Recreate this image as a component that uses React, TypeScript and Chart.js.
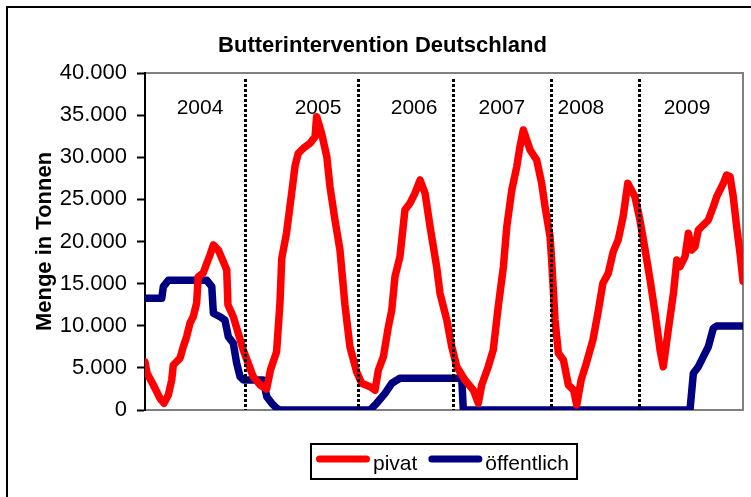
import React, { useEffect, useRef } from 'react';
import { Chart, registerables } from 'chart.js';

Chart.register(...registerables);

const TITLE = 'Butterintervention Deutschland';
const Y_TITLE = 'Menge in Tonnen';
const FONT = '"Liberation Sans", Arial, Helvetica, sans-serif';

const yearLabels = ['2004', '2005', '2006', '2007', '2008', '2009'];
const yearLabelWeeks = [27.6, 86.8, 135, 179, 218.7, 271.9];
const yearBoundaryWeeks = [50.2, 106.9, 154.5, 203.9, 247.9];

const yTicks = [0, 5000, 10000, 15000, 20000, 25000, 30000, 35000, 40000];

const pivatWeeks = [
  0, 1, 4.2, 7.5, 9.5, 11.7, 13.4, 14.2, 17.6, 19.2, 20.9, 22.6, 24.2, 25.9, 26.7, 29.2, 31, 32.6, 34.3, 36.8,
  39.3, 41, 41.6, 44.3, 46.8, 49.3, 51.8, 54.3, 57.7, 61, 63, 66, 67.7, 68.6, 71, 73.6, 75.3, 76.9, 79.4, 82.8,
  85.3, 86.1, 88.6, 91.2, 92.8, 95.3, 97.8, 100.3, 102.8, 106.2, 108.7, 112.9, 115.4, 117.1, 119.6, 122.1, 123.8,
  125.4, 127.9, 130.4, 132.9, 135.4, 138, 140.5, 143, 146.3, 148, 151.4, 153.9, 156.4, 160.5, 164.7, 167.2, 168.9,
  172.2, 174.7, 177.2, 179.8, 181.5, 184, 186.5, 188.1, 189.8, 193.2, 196.5, 199, 200.7, 203.2, 204, 205.7, 207.4,
  209.9, 212.4, 215, 216.6, 218.8, 221.4, 224.7, 227.2, 229.7, 232.4, 234.9, 237.4, 239.9, 242.2, 245.8, 248.3,
  250.9, 253.4, 255.9, 258.4, 260, 262.5, 265.1, 266.8, 268.4, 270.9, 272.6, 274.3, 275.9, 277.6, 279.3, 282.6,
  285.1, 286.8, 290.1, 291.8, 293.5, 295.1, 296.8, 298.5, 300,
];
const pivatValues = [
  5700, 4400, 2970, 1390, 800, 1780, 3560, 5340, 6170, 7510, 8700, 10330, 11070, 12700, 15820, 16260, 17410, 18400,
  19590, 18990, 17600, 16620, 12500, 11070, 9100, 7120, 5540, 3950, 2970, 2500, 4800, 6900, 12660, 18000, 21000,
  25800, 29000, 30470, 31060, 31650, 32440, 34820, 32840, 30070, 26500, 22550, 19000, 12500, 7510, 4500, 3170, 2770,
  2370, 4750, 6330, 9890, 11870, 15820, 18200, 23740, 24530, 25720, 27300, 25720, 21760, 17010, 13850, 10680, 7510,
  5140, 3560, 2370, 800, 2970, 5140, 7120, 12260, 17010, 21760, 26100, 28880, 31250, 33240, 30860, 29680, 26900,
  24130, 20570, 17800, 10680, 6730, 5935, 2970, 2370, 600, 3560, 5540, 8310, 11480, 15040, 16220, 18800, 20200,
  23000, 26900, 25320, 22550, 18990, 15430, 11480, 7120, 5140, 9500, 13850, 17800, 17010, 18200, 20970, 18990,
  19390, 21370, 21760, 22550, 24130, 25320, 26900, 27890, 27690, 25320, 21760, 18600, 15300,
];

const oeffWeeks = [
  0, 8.4, 9.2, 11.7, 31, 33.5, 34.3, 37.6, 40.1, 41.8, 44.3, 46, 47.7, 49.3, 59.3, 61.1, 63.6, 66.1, 67.7, 112.9,
  116.2, 120.4, 123.8, 127.9, 158.9, 159.7, 273.4, 275.1, 277.6, 280.1, 282.6, 285.1, 286.8, 300,
];
const oeffValues = [
  13250, 13250, 14640, 15390, 15390, 14640, 11480, 11070, 10680, 8700, 7910, 5540, 3950, 3560, 3560, 1580, 800, 200,
  0, 0, 800, 1980, 3170, 3760, 3760, 0, 0, 4360, 5140, 6330, 7510, 9700, 9970, 9970,
];

const seriesNames = ['pivat', 'öffentlich'];
const seriesColors = ['#ff0000', '#000080'];

function fmt(v: number): string {
  return String(v).replace(/\B(?=(\d{3})+(?!\d))/g, '.');
}

const decorPlugin = {
  id: 'decor',
  beforeDraw(chart: any) {
    const { ctx, chartArea: a } = chart;
    ctx.save();
    ctx.fillStyle = '#ffffff';
    ctx.fillRect(0, 0, chart.width, chart.height);
    ctx.strokeStyle = '#000000';
    ctx.lineWidth = 2;
    ctx.strokeRect(7, 7, chart.width + 40, chart.height + 40);
    ctx.strokeStyle = '#808080';
    ctx.strokeRect(a.left, a.top, a.right - a.left, a.bottom - a.top);
    ctx.restore();
  },
  afterDatasetsDraw(chart: any) {
    const { ctx, chartArea: a } = chart;
    const xs = chart.scales.x;
    ctx.save();
    ctx.strokeStyle = '#000000';
    ctx.lineWidth = 3;
    ctx.setLineDash([3, 2]);
    yearBoundaryWeeks.forEach((w) => {
      const x = Math.round(xs.getPixelForValue(w)) + 0.5;
      ctx.beginPath();
      ctx.moveTo(x, a.top + 6);
      ctx.lineTo(x, a.bottom);
      ctx.stroke();
    });
    ctx.restore();
  },
  afterDraw(chart: any) {
    const { ctx, chartArea: a } = chart;
    const xs = chart.scales.x;
    ctx.save();
    ctx.fillStyle = '#000000';
    // title
    ctx.font = `bold 22px ${FONT}`;
    ctx.textAlign = 'center';
    ctx.textBaseline = 'alphabetic';
    ctx.fillText(TITLE, chart.width / 2 + 7, 52);
    // y title
    ctx.save();
    ctx.translate(51, (a.top + a.bottom) / 2);
    ctx.rotate(-Math.PI / 2);
    ctx.fillText(Y_TITLE, 0, 0);
    ctx.restore();
    // year labels
    ctx.font = `21px ${FONT}`;
    ctx.textBaseline = 'middle';
    yearLabels.forEach((t, i) => {
      ctx.fillText(t, xs.getPixelForValue(yearLabelWeeks[i]), a.top + 35);
    });
    // legend
    ctx.font = `21px ${FONT}`;
    const sample = 54;
    const padL = 5;
    const gapText = 3;
    const gapItem = 11;
    const padR = 8;
    const widths = seriesNames.map((n) => ctx.measureText(n).width);
    let total = padL + padR;
    widths.forEach((w, i) => {
      total += sample + gapText + w + (i < widths.length - 1 ? gapItem : 0);
    });
    const left = Math.round((a.left + a.right) / 2 - total / 2);
    const top = a.bottom + 34;
    const h = 35;
    ctx.lineWidth = 2;
    ctx.strokeStyle = '#000000';
    ctx.strokeRect(left, top, total, h);
    let x = left + padL;
    const cy = top + 15;
    ctx.textAlign = 'left';
    ctx.textBaseline = 'alphabetic';
    seriesNames.forEach((n, i) => {
      ctx.strokeStyle = seriesColors[i];
      ctx.lineWidth = 7;
      ctx.lineCap = 'round';
      ctx.beginPath();
      ctx.moveTo(x + 3.5, cy);
      ctx.lineTo(x + sample - 3.5, cy);
      ctx.stroke();
      x += sample + gapText;
      ctx.fillStyle = '#000000';
      ctx.fillText(n, x, top + 26);
      x += widths[i] + gapItem;
    });
    ctx.restore();
  },
};

export default function App() {
  const ref = useRef<HTMLCanvasElement>(null);
  useEffect(() => {
    if (!ref.current) return;
    Chart.defaults.font.family = FONT;
    const chart = new Chart(ref.current, {
      type: 'line',
      data: {
        datasets: [
          {
            label: seriesNames[0],
            data: pivatWeeks.map((w, i) => ({ x: w, y: pivatValues[i] })),
            borderColor: seriesColors[0],
            backgroundColor: seriesColors[0],
            borderWidth: 7.5,
            pointRadius: 0,
            tension: 0,
            borderJoinStyle: 'round',
            borderCapStyle: 'round',
          },
          {
            label: seriesNames[1],
            data: oeffWeeks.map((w, i) => ({ x: w, y: oeffValues[i] })),
            borderColor: seriesColors[1],
            backgroundColor: seriesColors[1],
            borderWidth: 7.5,
            pointRadius: 0,
            tension: 0,
            borderJoinStyle: 'round',
            borderCapStyle: 'round',
          },
        ],
      },
      options: {
        responsive: false,
        animation: false,
        devicePixelRatio: 1,
        layout: { padding: { left: 0, top: 73, right: 8, bottom: 87 } },
        plugins: { legend: { display: false }, title: { display: false }, tooltip: { enabled: false } },
        scales: {
          x: { type: 'linear', min: 0, max: 300, display: false },
          y: {
            min: 0,
            max: 40000,
            afterFit: (s: any) => {
              s.width = 145;
            },
            afterBuildTicks: (s: any) => {
              s.ticks = yTicks.map((v) => ({ value: v }));
            },
            ticks: {
              color: '#000000',
              padding: 10,
              font: { size: 22, family: FONT },
              callback: (v: any) => fmt(Number(v)),
            },
            grid: {
              drawOnChartArea: false,
              drawTicks: true,
              tickLength: 8,
              tickColor: '#000000',
              tickWidth: 2,
            },
            border: { display: true, color: '#000000', width: 2 },
          },
        },
      },
      plugins: [decorPlugin],
    } as any);
    return () => chart.destroy();
  }, []);
  return (
    <div style={{ position: 'fixed', left: 0, top: 0, width: 751, height: 497, background: '#fff' }}>
      <canvas ref={ref} width={751} height={497} style={{ display: 'block' }} />
    </div>
  );
}
